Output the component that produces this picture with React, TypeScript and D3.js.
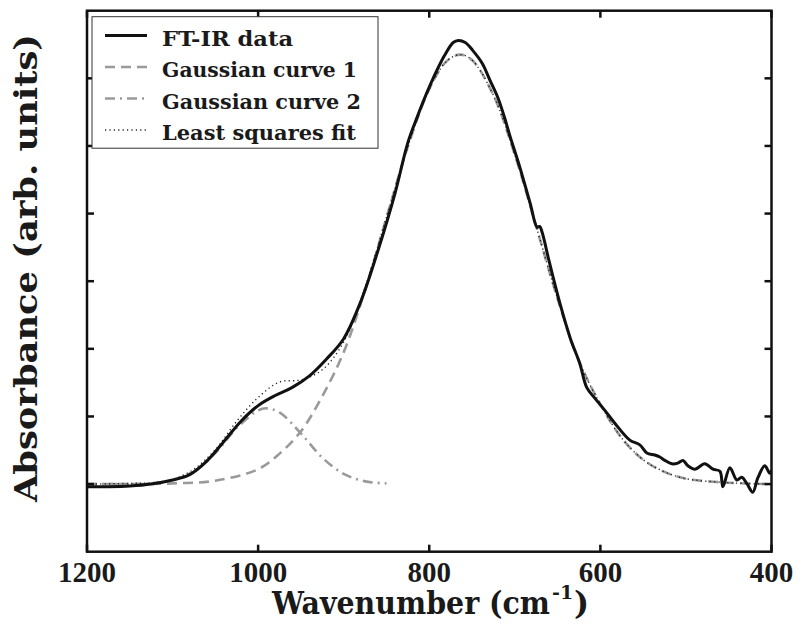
import React from "react";
import * as d3 from "d3";

// ---- data ----
const xTicks = [1200, 1000, 800, 600, 400];
const yTicks = [0, 0.1, 0.2, 0.3, 0.4, 0.5, 0.6];

// FT-IR data: [wavenumber, absorbance]
const ftirData: [number, number][] = [
  [1200, -0.004], [1175, -0.004], [1150, -0.003], [1125, 0.0], [1100, 0.006],
  [1080, 0.014], [1060, 0.034], [1040, 0.063], [1020, 0.093], [1000, 0.116],
  [980, 0.131], [960, 0.143], [940, 0.16], [920, 0.185], [900, 0.215],
  [880, 0.27], [860, 0.345], [840, 0.43], [825, 0.505], [814, 0.543],
  [803, 0.578], [791, 0.612], [782, 0.634], [772, 0.653], [766, 0.656],
  [758, 0.653], [749, 0.641], [738, 0.622], [729, 0.597], [720, 0.572],
  [712, 0.542], [706, 0.516], [694, 0.468], [682, 0.415], [674, 0.38],
  [671, 0.381], [668, 0.372], [660, 0.33], [647, 0.266], [635, 0.215],
  [624, 0.178], [616, 0.143], [606.5, 0.127], [594.8, 0.109], [583.1, 0.09],
  [565.6, 0.065], [553.9, 0.058], [545.7, 0.046], [536.4, 0.043], [530.5, 0.04],
  [524.7, 0.035], [516.5, 0.03], [509.5, 0.031], [503.5, 0.035], [497.7, 0.027],
  [489.5, 0.022], [477.9, 0.03], [468.5, 0.022], [460.3, 0.019], [456.8, -0.004],
  [448.6, 0.024], [440.6, 0.006], [434.8, 0.01], [428.9, 0.001], [421.9, -0.012],
  [416.0, 0.009], [407.9, 0.027], [402, 0.016], [400, 0.02],
];

// Gaussian curve 1 (dashed)
const gauss1: [number, number][] = [
  [1200, 0.0], [1150, 0.0], [1100, 0.001], [1050, 0.005], [1000, 0.022],
  [975, 0.045], [950, 0.078], [925, 0.13], [900, 0.195], [875, 0.287],
  [850, 0.394], [825, 0.499], [800, 0.584], [780, 0.625], [764, 0.635],
  [750, 0.627], [725, 0.575], [700, 0.487], [675, 0.381], [650, 0.274],
  [625, 0.182], [600, 0.118], [575, 0.068], [550, 0.036], [525, 0.018],
  [500, 0.008], [450, 0.002], [400, 0.0],
];

// Gaussian curve 2 (dash-dot)
const gauss2: [number, number][] = [
  [1200, 0.0], [1150, 0.0], [1125, 0.001], [1100, 0.006], [1075, 0.019],
  [1050, 0.046], [1025, 0.083], [1000, 0.109], [990, 0.112], [975, 0.106],
  [950, 0.075], [925, 0.039], [900, 0.015], [875, 0.004], [850, 0.001],
];

// Least squares fit (dotted)
const lsqFit: [number, number][] = [
  [1200, 0.0], [1150, 0.001], [1125, 0.002], [1100, 0.007], [1075, 0.022],
  [1050, 0.051], [1025, 0.093], [1000, 0.128], [975, 0.151], [950, 0.154],
  [925, 0.169], [900, 0.21], [875, 0.291], [850, 0.395], [825, 0.499],
  [800, 0.584], [780, 0.625], [764, 0.635], [750, 0.627], [725, 0.575],
  [700, 0.487], [675, 0.381], [650, 0.274], [625, 0.182], [600, 0.118],
  [575, 0.068], [550, 0.036], [525, 0.018], [500, 0.008], [450, 0.002], [400, 0.0],
];

const legendLabels = ["FT-IR data", "Gaussian curve 1", "Gaussian curve 2", "Least squares fit"];

export default function App() {
  const W = 800, H = 635;
  const left = 87, right = 771.5, top = 10.7, bottom = 551.7;
  const x = d3.scaleLinear().domain([1200, 400]).range([left, right]);
  const y = d3.scaleLinear().domain([-0.1, 0.7]).range([bottom, top]);
  const line = d3
    .line<[number, number]>()
    .x((d) => x(d[0]))
    .y((d) => y(d[1]))
    .curve(d3.curveCatmullRom.alpha(0.5));

  const gray = "#9a9a9a";
  const serif = "'DejaVu Serif', serif";
  const tickFont = "'Liberation Serif', 'Times New Roman', serif";
  const tl = 7;

  const styles = [
    { stroke: "#111", width: 3, dash: undefined as string | undefined },
    { stroke: gray, width: 2.6, dash: "10,6" },
    { stroke: gray, width: 2.6, dash: "10,5,2,5" },
    { stroke: "#222", width: 1.4, dash: "1.2,3.2" },
  ];
  const series = [ftirData, gauss1, gauss2, lsqFit];
  const drawOrder = [1, 2, 3, 0];
  const legendBase = [45.5, 77, 108.5, 140];
  const legendLens = [131, 195, 199, 194];

  return (
    <svg width={W} height={H} style={{ position: "absolute", left: 0, top: 0, background: "#fff" }}>
      <rect x={0} y={0} width={W} height={H} fill="#fff" />
      <defs>
        <clipPath id="plotclip">
          <rect x={left} y={top} width={right - left} height={bottom - top} />
        </clipPath>
      </defs>
      <g clipPath="url(#plotclip)">
        {drawOrder.map((i) => (
          <path
            key={i}
            d={line(series[i]) || ""}
            fill="none"
            stroke={styles[i].stroke}
            strokeWidth={styles[i].width}
            strokeDasharray={styles[i].dash}
            strokeLinejoin="round"
          />
        ))}
      </g>
      {/* ticks */}
      {xTicks.map((t) => (
        <g key={"xt" + t}>
          <line x1={x(t)} x2={x(t)} y1={bottom} y2={bottom - tl} stroke="#111" strokeWidth={2.5} />
          <line x1={x(t)} x2={x(t)} y1={top} y2={top + tl} stroke="#111" strokeWidth={2.5} />
          <text
            x={x(t)}
            y={582}
            textAnchor="middle"
            fontFamily={tickFont}
            fontWeight="bold"
            fontSize={29}
            fill="#1a1a1a"
          >
            {t}
          </text>
        </g>
      ))}
      {yTicks.map((t) => (
        <g key={"yt" + t}>
          <line x1={left} x2={left + tl} y1={y(t)} y2={y(t)} stroke="#111" strokeWidth={2.5} />
          <line x1={right} x2={right - tl} y1={y(t)} y2={y(t)} stroke="#111" strokeWidth={2.5} />
        </g>
      ))}
      {/* frame */}
      <rect x={left} y={top} width={right - left} height={bottom - top} fill="none" stroke="#111" strokeWidth={2.5} />
      {/* legend */}
      <rect x={92} y={16.7} width={286} height={131.5} fill="#fff" stroke="#333" strokeWidth={1} />
      {legendLabels.map((lab, i) => (
        <g key={lab}>
          <line
            x1={105}
            x2={147}
            y1={legendBase[i] - 10}
            y2={legendBase[i] - 10}
            stroke={styles[i].stroke}
            strokeWidth={styles[i].width}
            strokeDasharray={styles[i].dash}
          />
          <text
            x={162}
            y={legendBase[i]}
            fontFamily={serif}
            fontWeight="bold"
            fontSize={20}
            textLength={legendLens[i]}
            lengthAdjust="spacingAndGlyphs"
            fill="#1a1a1a"
          >
            {lab}
          </text>
        </g>
      ))}
      {/* axis titles */}
      <text
        x={272}
        y={614}
        fontFamily={serif}
        fontWeight="bold"
        fontSize={32}
        textLength={278}
        lengthAdjust="spacingAndGlyphs"
        fill="#1a1a1a"
      >
        Wavenumber (cm
      </text>
      <text x={552} y={599} fontFamily={serif} fontWeight="bold" fontSize={19} fill="#1a1a1a">
        -1
      </text>
      <text x={574} y={614} fontFamily={serif} fontWeight="bold" fontSize={32} fill="#1a1a1a">
        )
      </text>
      <text
        transform={`translate(37,${268}) rotate(-90)`}
        x={0}
        y={0}
        textAnchor="middle"
        fontFamily={serif}
        fontWeight="bold"
        fontSize={32}
        textLength={468}
        lengthAdjust="spacingAndGlyphs"
        fill="#1a1a1a"
      >
        Absorbance (arb. units)
      </text>
    </svg>
  );
}
